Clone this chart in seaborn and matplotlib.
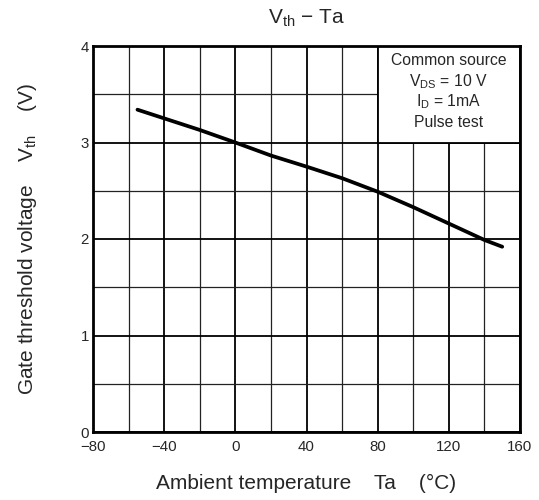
import matplotlib
matplotlib.use("Agg")
import matplotlib.pyplot as plt
import seaborn as sns
import pandas as pd
from matplotlib.patches import Rectangle
from matplotlib.ticker import MultipleLocator

# Data
temperature = [-55, -40, -20, 0, 20, 40, 60, 80, 100, 120, 140, 150]
vth = [3.34, 3.25, 3.13, 3.00, 2.865, 2.75, 2.63, 2.49, 2.33, 2.16, 1.99, 1.92]
x_ticks = [-80, -40, 0, 40, 80, 120, 160]
y_ticks = [0, 1, 2, 3, 4]
note_lines = ["Common source", r"V$_{\mathregular{DS}}$ = 10 V",
              r"I$_{\mathregular{D}}$ = 1mA", "Pulse test"]

sns.set_style("white")
plt.rcParams['font.family'] = ['Liberation Sans', 'DejaVu Sans']
plt.rcParams['mathtext.fontset'] = 'custom'
plt.rcParams['mathtext.rm'] = 'Liberation Sans'
plt.rcParams['mathtext.it'] = 'Liberation Sans'

df = pd.DataFrame({"Ta": temperature, "Vth": vth})

fig = plt.figure(figsize=(5.39, 5.0), dpi=100)
ax = fig.add_axes([93/539, 68/500, 427/539, 386/500])

# grid
ax.set_xlim(-80, 160)
ax.set_ylim(0, 4)
ax.xaxis.set_minor_locator(MultipleLocator(20))
ax.yaxis.set_minor_locator(MultipleLocator(0.5))
ax.set_xticks(x_ticks)
ax.set_yticks(y_ticks)
ax.grid(which='major', color='black', linewidth=1.3, zorder=1)
ax.grid(which='minor', color='#222222', linewidth=0.9, zorder=1)
ax.set_axisbelow(True)

sns.lineplot(data=df, x="Ta", y="Vth", ax=ax, color='black', linewidth=2.7, zorder=3)

# note box
ax.add_patch(Rectangle((80, 3), 80, 1, facecolor='white', edgecolor='black',
                       linewidth=1.3, zorder=4))
for i, t in enumerate(note_lines):
    ax.text(120, 3.85 - i * 0.215, t, ha='center', va='center', fontsize=11.3, zorder=5)

for s in ax.spines.values():
    s.set_linewidth(2.0)
    s.set_color('black')
    s.set_zorder(6)

ax.tick_params(axis='both', which='both', length=0, labelsize=10.8)
ax.tick_params(axis='x', pad=6)
ax.tick_params(axis='y', pad=3)
ax.set_xticklabels(['\u221280', '\u221240', '0', '40', '80', '120', '160'])
ax.set_yticklabels([str(v) for v in y_ticks])

ax.set_xlabel("Ambient temperature    Ta    (\u00b0C)", fontsize=15, labelpad=14)
ax.set_ylabel("Gate threshold voltage    V$_{\\mathregular{th}}$    (V)", fontsize=15, labelpad=30)
ax.set_title("V$_{\\mathregular{th}}$ \u2212 Ta", fontsize=15, pad=16)

fig.savefig("out.png", dpi=100)
